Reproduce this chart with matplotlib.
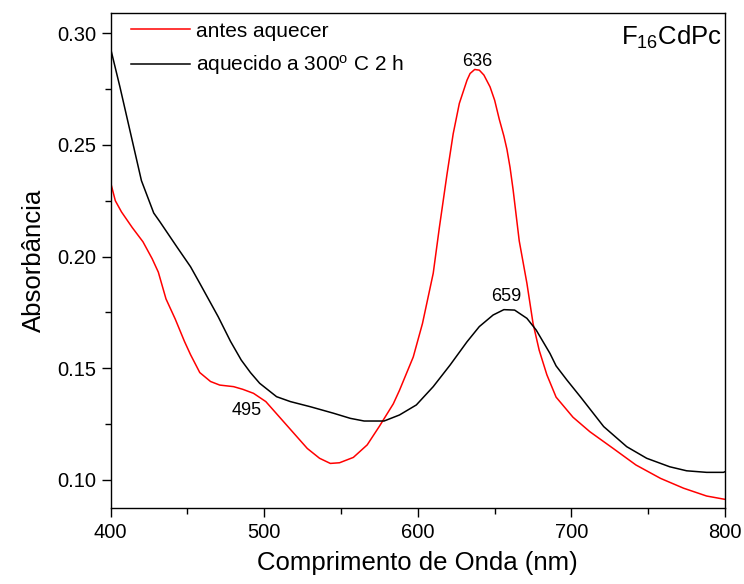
import numpy as np
import matplotlib
matplotlib.use("Agg")
import matplotlib.pyplot as plt
from matplotlib.ticker import MultipleLocator

plt.rcParams['font.family'] = ['Liberation Sans', 'DejaVu Sans']
plt.rcParams['mathtext.fontset'] = 'custom'
plt.rcParams['mathtext.rm'] = 'Liberation Sans'
plt.rcParams['mathtext.it'] = 'Liberation Sans:italic'

# antes aquecer (red)
wl_antes = [400, 403, 407, 414, 421, 427, 431, 436, 442, 448, 452, 458, 465, 471,
            480, 486, 493, 501, 510, 519, 528, 536, 543, 549, 558, 567, 575, 584,
            588, 597, 603, 610, 614, 619, 623, 627, 632, 634, 637, 640, 643, 647,
            650, 653, 656, 658, 660, 662, 666, 671, 675, 679, 684, 690, 701, 712,
            727, 742, 758, 773, 788, 800]
abs_antes = [0.233, 0.225, 0.220, 0.213, 0.2066, 0.199, 0.193, 0.181, 0.172, 0.162,
             0.156, 0.148, 0.144, 0.1424, 0.1417, 0.1405, 0.1387, 0.135, 0.128, 0.121,
             0.114, 0.1096, 0.1073, 0.1076, 0.110, 0.1156, 0.124, 0.134, 0.140, 0.155,
             0.170, 0.1925, 0.213, 0.237, 0.255, 0.2686, 0.279, 0.2820, 0.2838, 0.2835,
             0.2813, 0.276, 0.270, 0.2615, 0.254, 0.248, 0.240, 0.230, 0.207, 0.188,
             0.170, 0.158, 0.147, 0.137, 0.128, 0.1215, 0.1141, 0.1066, 0.1006, 0.0962,
             0.0927, 0.0912]

# aquecido a 300 C 2 h (black)
wl_aquec = [400, 406, 413, 420, 428, 432, 443, 452, 458, 470, 478, 485, 491, 497,
            508, 517, 530, 545, 556, 565, 578, 588, 599, 610, 621, 632, 640, 649,
            656, 663, 671, 677, 686, 690, 697, 706, 721, 736, 749, 764, 775, 788, 799, 800]
abs_aquec = [0.293, 0.276, 0.255, 0.234, 0.2195, 0.2156, 0.2044, 0.1954, 0.188, 0.173,
             0.162, 0.1536, 0.148, 0.1432, 0.1372, 0.135, 0.1327, 0.1298, 0.1275, 0.1263,
             0.1263, 0.129, 0.1335, 0.1417, 0.1514, 0.1618, 0.1686, 0.1738, 0.1762, 0.176,
             0.1723, 0.1671, 0.1566, 0.151, 0.1447, 0.137, 0.1238, 0.1148, 0.1096, 0.1058,
             0.104, 0.1033, 0.1033, 0.1036]

# peak annotations: text, x, y
peak_labels = ['636', '659', '495']
peak_x = [638.8, 657.8, 488.5]
peak_y = [0.2873, 0.182, 0.131]

fig = plt.figure(figsize=(7.44, 5.84), dpi=100)
ax = fig.add_axes([0.1488, 0.1301, 0.8257, 0.8471])

ax.plot(wl_antes, abs_antes, color='#ff0000', lw=1.1, label='antes aquecer')
ax.plot(wl_aquec, abs_aquec, color='black', lw=1.1,
        label='aquecido a 300$^{\\mathrm{o}}$ C 2 h')

for t, x, y in zip(peak_labels, peak_x, peak_y):
    ax.text(x, y, t, fontsize=13, ha='center', va='center')

ax.text(0.995, 0.978, 'F$_{16}$CdPc', transform=ax.transAxes, fontsize=18.5,
        ha='right', va='top')

ax.set_xlim(400, 800)
ax.set_ylim(0.08732, 0.30896)
ax.xaxis.set_major_locator(MultipleLocator(100))
ax.xaxis.set_minor_locator(MultipleLocator(50))
ax.yaxis.set_major_locator(MultipleLocator(0.05))
ax.yaxis.set_minor_locator(MultipleLocator(0.025))
ax.yaxis.set_major_formatter(plt.FormatStrFormatter('%.2f'))
ax.tick_params(which='major', direction='out', length=6.5, width=1, labelsize=14.5, pad=4)
ax.tick_params(which='minor', direction='out', length=4, width=1)
for s in ax.spines.values():
    s.set_linewidth(1)

ax.set_xlabel('Comprimento de Onda (nm)', fontsize=18.5, labelpad=7)
ax.set_ylabel('Absorbância', fontsize=18.5, labelpad=8)

ax.legend(loc='upper left', bbox_to_anchor=(0.02, 1.0), frameon=False, fontsize=15,
          handlelength=2.8, handletextpad=0.3, labelspacing=0.6,
          borderaxespad=0.3, borderpad=0.1)

fig.savefig('out.png', dpi=100)
